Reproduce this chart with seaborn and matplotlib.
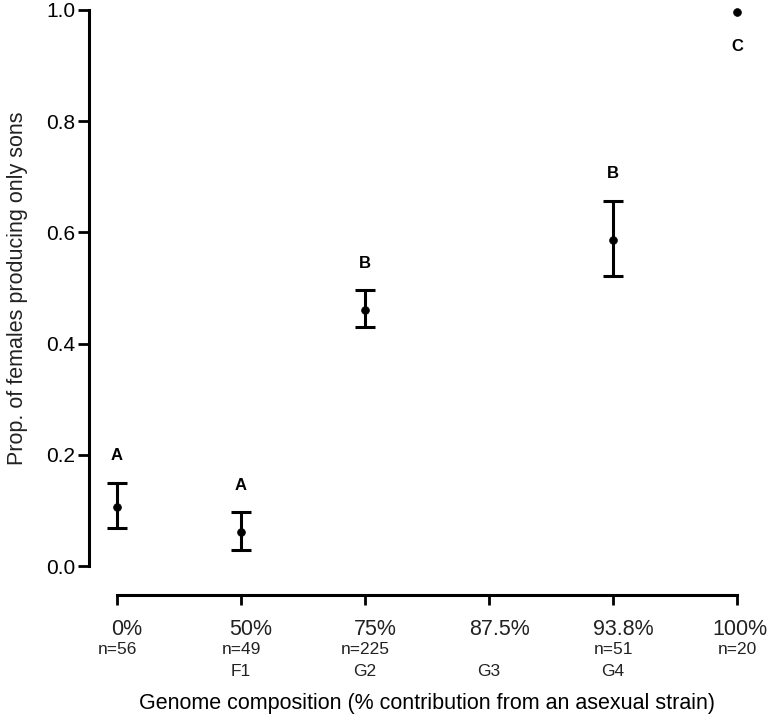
import matplotlib
matplotlib.use("Agg")
import matplotlib.pyplot as plt
import matplotlib.transforms as mtransforms
import numpy as np
import pandas as pd
import seaborn as sns

# data
composition = ["0%", "50%", "75%", "87.5%", "93.8%", "100%"]
n_labels = ["n=56", "n=49", "n=225", "", "n=51", "n=20"]
generation = ["", "F1", "G2", "G3", "G4", ""]
prop = [0.107, 0.061, 0.460, np.nan, 0.586, 0.996]
err_low = [0.068, 0.029, 0.430, np.nan, 0.522, np.nan]
err_high = [0.150, 0.097, 0.496, np.nan, 0.657, np.nan]
letters = ["A", "A", "B", "", "B", "C"]

sns.set_style("ticks", {"text.color": "black", "xtick.color": "black",
                        "ytick.color": "black", "axes.edgecolor": "black",
                        "axes.labelcolor": "black"})
plt.rcParams["font.family"] = ["Liberation Sans", "DejaVu Sans"]

df = pd.DataFrame({"pos": np.arange(len(composition)), "prop": prop,
                   "lo": err_low, "hi": err_high})

fig = plt.figure(figsize=(7.73, 7.19), dpi=100)
ax = fig.add_axes([89 / 773, 1 - 595 / 719, 671 / 773, (595 - 4.4) / 719])

ok = df.dropna(subset=["lo"])
ax.errorbar(ok["pos"], ok["prop"],
            yerr=[ok["prop"] - ok["lo"], ok["hi"] - ok["prop"]],
            fmt="none", ecolor="black", elinewidth=2.2, capsize=7, capthick=2.2)
sns.scatterplot(data=df, x="pos", y="prop", color="black", s=32,
                edgecolor="black", ax=ax, clip_on=False, zorder=5)

# significance letters
for i, let in enumerate(letters):
    if not let:
        continue
    if np.isnan(err_high[i]):
        ax.annotate(let, (i, prop[i]), xytext=(0, -25), textcoords="offset points",
                    ha="center", va="center", fontsize=12, fontweight="bold")
    else:
        ax.annotate(let, (i, err_high[i]), xytext=(0, 19.5), textcoords="offset points",
                    ha="center", va="center", fontsize=12, fontweight="bold")

ax.set_xlim(-0.226, 5.185)
ax.set_ylim(-0.052, 1.01)
ax.set_yticks([0, 0.2, 0.4, 0.6, 0.8, 1.0])
ax.set_yticklabels(["0.0", "0.2", "0.4", "0.6", "0.8", "1.0"], fontsize=15)
ax.set_xticks(np.arange(len(composition)))
ax.set_xticklabels(composition, fontsize=15.5, color="#222222")
ax.tick_params(axis="y", length=8, width=2, pad=2)
ax.tick_params(axis="x", length=7, width=2, pad=10)
# the percentage labels sit a little right of their ticks
labs = ax.get_xticklabels()
for k, lab in enumerate(labs):
    dx = 3 if k == len(labs) - 1 else 10
    shift = mtransforms.ScaledTranslation(dx / 100, 0, fig.dpi_scale_trans)
    lab.set_transform(lab.get_transform() + shift)

for s in ["top", "right"]:
    ax.spines[s].set_visible(False)
ax.spines["left"].set_bounds(0, 1)
ax.spines["bottom"].set_bounds(0, 5)
ax.spines["left"].set_linewidth(2.2)
ax.spines["bottom"].set_linewidth(2.2)

trans = mtransforms.blended_transform_factory(ax.transData, fig.transFigure)
for i in range(len(composition)):
    ax.text(i, 1 - 649 / 719, n_labels[i], transform=trans, ha="center",
            va="center", fontsize=12.5, color="#222222")
    ax.text(i, 1 - 671 / 719, generation[i], transform=trans, ha="center",
            va="center", fontsize=12.5, color="#222222")

ax.set_xlabel("")
ax.set_ylabel("")
fig.text(427 / 773, 1 - 704 / 719,
         "Genome composition (% contribution from an asexual strain)",
         ha="center", va="center", fontsize=15.5)
fig.text(18 / 773, 1 - 288 / 719, "Prop. of females producing only sons",
         ha="center", va="center", rotation=90, fontsize=15.5, color="#222222")

fig.savefig("out.png", dpi=100)
